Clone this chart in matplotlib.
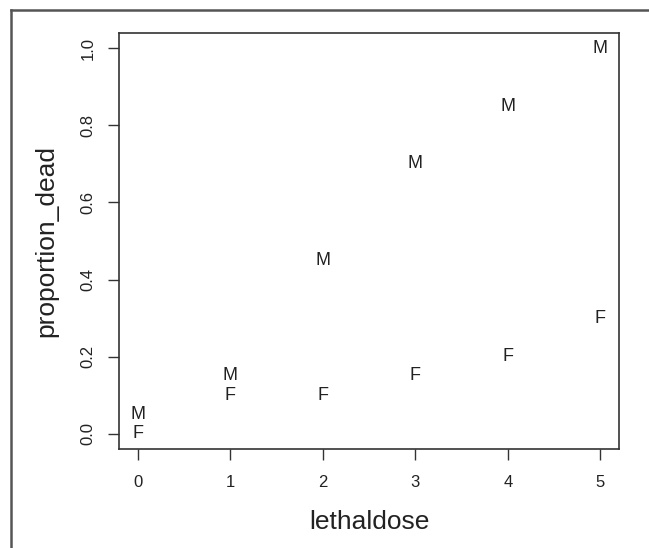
import matplotlib.pyplot as plt
from matplotlib.lines import Line2D

lethaldose = [0, 1, 2, 3, 4, 5]
male_dead = [0.05, 0.15, 0.45, 0.70, 0.85, 1.0]
female_dead = [0.0, 0.1, 0.1, 0.15, 0.2, 0.3]
xticks = [0, 1, 2, 3, 4, 5]
yticks = [0.0, 0.2, 0.4, 0.6, 0.8, 1.0]

plt.rcParams['font.family'] = ['Liberation Sans', 'DejaVu Sans']

fig = plt.figure(figsize=(6.49, 5.48), dpi=100)
W, H = 649, 548
ax = fig.add_axes([119 / W, 1 - 449 / H, 500 / W, 416 / H])

for x, y in zip(lethaldose, male_dead):
    ax.text(x, y, "M", ha="center", va="center", fontsize=13, color="#222222")
for x, y in zip(lethaldose, female_dead):
    ax.text(x, y, "F", ha="center", va="center", fontsize=13, color="#222222")

ax.set_xlim(-0.2, 5.2)
ax.set_ylim(-0.04, 1.04)
ax.set_xticks(xticks)
ax.set_xticklabels([str(t) for t in xticks])
ax.set_yticks(yticks)
ax.set_yticklabels([f"{t:.1f}" for t in yticks], rotation=90, va="center")
ax.tick_params(length=8, width=1, color="#333333", labelsize=12, labelcolor="#222222")
ax.tick_params(axis="x", pad=11)
ax.tick_params(axis="y", pad=9)
for s in ax.spines.values():
    s.set_color("#333333")
    s.set_linewidth(1.2)

ax.set_xlabel("lethaldose", fontsize=19, color="#222222", va="center")
ax.xaxis.set_label_coords(0.5, (449 - 522) / 416)
ax.set_ylabel("proportion_dead", fontsize=19, color="#222222", va="center")
ax.yaxis.set_label_coords((46 - 119) / 500, 0.5)

# outer frame (left and top edges)
fig.add_artist(Line2D([11 / W, 11 / W], [0, 1 - 10 / H], transform=fig.transFigure, color="#555555", lw=1.8))
fig.add_artist(Line2D([11 / W, 1], [1 - 10 / H, 1 - 10 / H], transform=fig.transFigure, color="#555555", lw=1.8))

fig.savefig("out.png", dpi=100)
